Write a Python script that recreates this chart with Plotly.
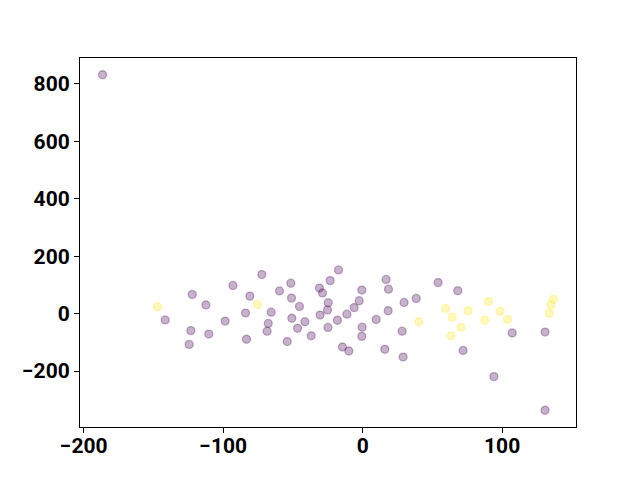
import plotly.graph_objects as go

# Purple group (class 0)
purple_x = [-186.5, -141.6, -122.2, -123.2, -124.4, -112.4, -93.0, -72.3, -80.9, -84.0,
            -98.6, -110.3, -83.3, -65.6, -67.7, -68.5, -59.6, -51.5, -51.0, -45.3,
            -50.8, -41.4, -46.7, -54.1, -36.9, -17.3, -23.3, -31.0, -28.8, -24.7,
            -25.2, -30.5, -18.1, -24.9, -11.3, -6.1, -2.5, -0.6, 9.7, -0.4,
            -0.6, -14.5, -9.9, 16.8, 18.5, 18.3, 29.7, 38.4, 28.3, 15.9,
            29.0, 54.1, 68.2, 107.2, 72.0, 94.1, 130.8, 130.8]
purple_y = [831, -22, 67, -59, -107, 30, 98, 136, 61, 2,
            -26, -71, -89, 5, -34, -61, 79, 106, 54, 25,
            -16, -28, -51, -97, -77, 152, 115, 89, 72, 38,
            13, -5, -23, -48, -2, 21, 45, 82, -20, -47,
            -79, -116, -130, 119, 85, 10, 39, 53, -61, -124,
            -151, 108, 80, -67, -128, -219, -64, -336]

# Yellow group (class 1)
yellow_x = [-147.1, -75.4, 40.3, 59.4, 64.2, 75.6, 70.6, 63.4, 90.2, 98.6,
            87.6, 103.8, 136.8, 134.9, 133.9]
yellow_y = [24, 32, -28, 18, -12, 10, -48, -77, 42, 8,
            -23, -20, 50, 30, 1]

x_ticks = [-200, -100, 0, 100]
y_ticks = [-200, 0, 200, 400, 600, 800]

PURPLE = "rgba(68,1,84,0.3)"
YELLOW = "rgba(253,231,37,0.3)"

fig = go.Figure()
fig.add_trace(go.Scatter(
    x=purple_x, y=purple_y, mode="markers",
    marker=dict(size=8, color=PURPLE, line=dict(color=PURPLE, width=1.3)),
    showlegend=False))
fig.add_trace(go.Scatter(
    x=yellow_x, y=yellow_y, mode="markers",
    marker=dict(size=8, color=YELLOW, line=dict(color=YELLOW, width=1.3)),
    showlegend=False))

all_x = purple_x + yellow_x
all_y = purple_y + yellow_y
sx = max(all_x) - min(all_x)
sy = max(all_y) - min(all_y)
xr = [min(all_x) - 0.05 * sx, max(all_x) + 0.05 * sx]
yr = [min(all_y) - 0.05 * sy, max(all_y) + 0.05 * sy]

axis_common = dict(
    showgrid=False, zeroline=False, showline=True, linecolor="black", linewidth=1.1,
    mirror=True, ticks="outside", ticklen=5, tickwidth=1.1, tickcolor="black",
    tickfont=dict(family="Roboto", size=21, color="black", weight="bold"),
)
fig.update_xaxes(range=xr, tickvals=x_ticks, ticklabelstandoff=-5, **axis_common)
fig.update_yaxes(range=yr, tickvals=y_ticks, **axis_common)

# page body adds an 8px offset; margins compensate so the axes sit where
# a 640x480 figure with 80/64/58/53 margins would place them
fig.update_layout(
    width=640, height=480,
    margin=dict(l=72, r=72, t=50, b=61),
    plot_bgcolor="white", paper_bgcolor="white",
)
fig.write_html("out.html")
